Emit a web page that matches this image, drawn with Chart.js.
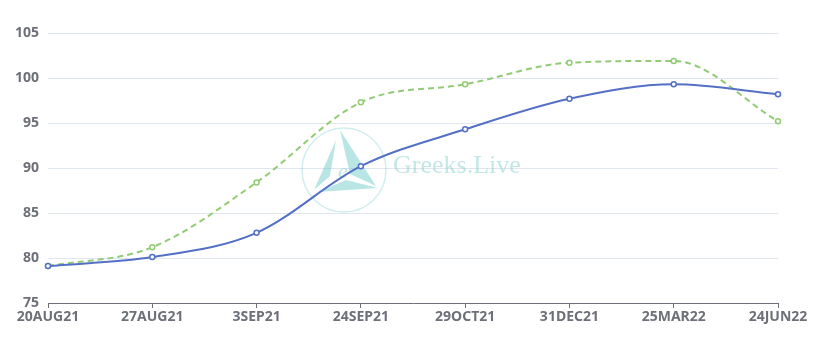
<!DOCTYPE html>
<html>
<head>
<meta charset="utf-8">
<script src="https://cdn.jsdelivr.net/npm/chart.js@4/dist/chart.umd.min.js"></script>
<style>
  html, body { margin: 0; padding: 0; background: #fff; }
  #wrap { width: 822px; height: 341px; }
</style>
</head>
<body>
<div id="wrap"><canvas id="myChart" width="822" height="341"></canvas></div>
<script>
const expiries = ["20AUG21", "27AUG21", "3SEP21", "24SEP21", "29OCT21", "31DEC21", "25MAR22", "24JUN22"];
const seriesBlue = [79.1, 80.1, 82.8, 90.2, 94.3, 97.7, 99.3, 98.2];
const seriesGreen = [79.1, 81.2, 88.4, 97.3, 99.3, 101.7, 101.9, 95.2];
const yTicks = [75, 80, 85, 90, 95, 100, 105];

const axisFont = { family: "'Noto Sans', 'DejaVu Sans', sans-serif", size: 14, weight: "bold" };

// faint logo behind the lines
const watermark = {
    id: "watermark",
    beforeDatasetsDraw(chart) {
        const ctx = chart.ctx;
        ctx.save();
        const cx = 344, cy = 170, r = 42;
        ctx.strokeStyle = "rgba(120,205,205,0.35)";
        ctx.lineWidth = 1.5;
        ctx.beginPath();
        ctx.arc(cx, cy, r, 0, Math.PI * 2);
        ctx.stroke();
        ctx.fillStyle = "rgba(100,200,195,0.45)";
        ctx.beginPath();
        ctx.moveTo(cx - 30, cy + 20);
        ctx.lineTo(cx - 8, cy - 30);
        ctx.lineTo(cx - 14, cy + 6);
        ctx.closePath();
        ctx.fill();
        ctx.beginPath();
        ctx.moveTo(cx - 4, cy - 40);
        ctx.lineTo(cx + 32, cy + 16);
        ctx.lineTo(cx + 6, cy + 4);
        ctx.closePath();
        ctx.fill();
        ctx.beginPath();
        ctx.moveTo(cx - 26, cy + 22);
        ctx.lineTo(cx + 34, cy + 18);
        ctx.lineTo(cx + 2, cy + 10);
        ctx.closePath();
        ctx.fill();
        ctx.fillStyle = "rgba(120,205,200,0.45)";
        ctx.font = "26px 'Liberation Serif', 'DejaVu Serif', serif";
        ctx.textBaseline = "middle";
        ctx.fillText("Greeks.Live", 393, 166);
        ctx.font = "italic 22px 'Liberation Serif', serif";
        ctx.fillText("e", cx - 6, cy + 2);
        ctx.restore();
    }
};

new Chart(document.getElementById("myChart"), {
    type: "line",
    data: {
        labels: expiries,
        datasets: [
            {
                label: "A",
                data: seriesBlue,
                borderColor: "#5470c6",
                backgroundColor: "#ffffff",
                borderWidth: 2,
                cubicInterpolationMode: "monotone",
                pointRadius: 2.5,
                pointBorderWidth: 1.5,
                pointBorderColor: "#5470c6",
                pointBackgroundColor: "#ffffff"
            },
            {
                label: "B",
                data: seriesGreen,
                borderColor: "#91cc75",
                backgroundColor: "#ffffff",
                borderWidth: 2,
                borderDash: [6, 4],
                cubicInterpolationMode: "monotone",
                pointRadius: 2.5,
                pointBorderWidth: 1.5,
                pointBorderColor: "#91cc75",
                pointBackgroundColor: "#ffffff"
            }
        ]
    },
    options: {
        responsive: false,
        animation: false,
        layout: { padding: { top: 33, right: 44, left: 0, bottom: 0 } },
        plugins: { legend: { display: false }, tooltip: { enabled: false } },
        scales: {
            x: {
                offset: false,
                afterFit(scale) { scale.height = 38; },
                grid: {
                    display: true,
                    drawOnChartArea: false,
                    drawTicks: true,
                    tickLength: 5,
                    color: "#6e7079"
                },
                border: { display: true, color: "#6e7079", width: 1 },
                ticks: {
                    color: "#6e7079",
                    font: axisFont,
                    padding: 1,
                    maxRotation: 0,
                    autoSkip: false
                }
            },
            y: {
                min: 75,
                max: 105,
                afterFit(scale) { scale.width = 48; },
                afterBuildTicks(scale) { scale.ticks = yTicks.map(v => ({ value: v })); },
                grid: { color: "#e0e6f1", drawTicks: false },
                border: { display: false },
                ticks: {
                    color: "#6e7079",
                    font: axisFont,
                    padding: 9
                }
            }
        }
    },
    plugins: [watermark]
});
</script>
</body>
</html>
